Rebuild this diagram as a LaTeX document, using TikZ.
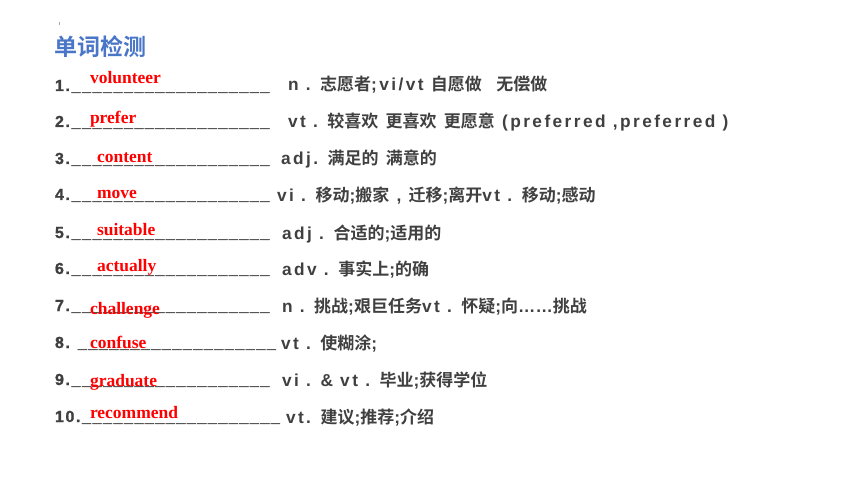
\documentclass[tikz,border=0pt]{standalone}
\usepackage{fontspec}
\setmainfont{Liberation Sans}[LetterSpace=10]
\newfontfamily\numfont{Liberation Sans}[LetterSpace=10,FakeBold=1.2]
\newfontfamily\meanfont{Liberation Sans}[LetterSpace=14]
\newfontfamily\dotsfont{Liberation Sans}
\newfontfamily\cjk{Noto Sans CJK SC}[BoldFont={Noto Sans CJK SC Bold}]
\newfontfamily\redfont{Liberation Serif}
\newcommand{\zh}[1]{{\cjk\fontsize{17}{17}\selectfont #1}}
\newcommand{\edots}{{\dotsfont\bfseries ……}}
\definecolor{txt}{HTML}{404040}
\definecolor{ttl}{HTML}{4A76C8}
\definecolor{ans}{HTML}{FF0000}
\tikzset{
  base/.style={anchor=base west, inner sep=0pt, outer sep=0pt},
  numstyle/.style={base, text=txt, font=\numfont\fontsize{16}{16}\selectfont\bfseries},
  blk/.style={base, text=txt, font=\meanfont\fontsize{17.3}{17}\selectfont\bfseries},
  red/.style={base, text=ans, font=\redfont\fontsize{17.5}{18}\selectfont\bfseries},
  ttlstyle/.style={base, text=ttl, font=\cjk\fontsize{23}{23}\selectfont\bfseries},
}
\newcommand{\unds}{\_\_\_\_\_\_\_\_\_\_\_\_\_\_\_\_\_\_\_}
\begin{document}
\begin{tikzpicture}[x=1pt,y=-1pt]
\useasboundingbox (0,0) rectangle (860,484);
\fill[white] (0,0) rectangle (860,484);
\fill[gray!70] (58.6,22.5) rectangle (59.4,25);
\node[ttlstyle] (title) at (54,56) {单词检测};
% line 1
\node[numstyle] (n1) at (55,91) {1.\unds};
\node[red] (a1) at (90,84) {volunteer};
\node[blk] (m1) at (288,91) {n . \zh{志愿者};vi/vt \zh{自愿做}\ \ \zh{无偿做}};
% line 2
\node[numstyle] (n2) at (55,127) {2.\unds};
\node[red] (a2) at (90,124) {prefer};
\node[blk] (m2) at (288,128) {vt . \zh{较喜欢} \zh{更喜欢} \zh{更愿意} (preferred ,preferred )};
% line 3
\node[numstyle] (n3) at (55,164) {3.\unds};
\node[red] (a3) at (97,163) {content};
\node[blk] (m3) at (281,165) {adj. \zh{满足的} \zh{满意的}};
% line 4
\node[numstyle] (n4) at (55,200) {4.\unds};
\node[red] (a4) at (97,198) {move};
\node[blk] (m4) at (277,201) {vi . \zh{移动};\zh{搬家} , \zh{迁移};\zh{离开}vt . \zh{移动};\zh{感动}};
% line 5
\node[numstyle] (n5) at (55,238) {5.\unds};
\node[red] (a5) at (97,235) {suitable};
\node[blk] (m5) at (282,239) {adj . \zh{合适的};\zh{适用的}};
% line 6
\node[numstyle] (n6) at (55,274) {6.\unds};
\node[red] (a6) at (97,271) {actually};
\node[blk] (m6) at (282,275) {adv . \zh{事实上};\zh{的确}};
% line 7
\node[numstyle] (n7) at (55,311) {7.\unds};
\node[red] (a7) at (90,314) {challenge};
\node[blk] (m7) at (282,312) {n . \zh{挑战};\zh{艰巨任务}vt . \zh{怀疑};\zh{向}\edots\zh{挑战}};
% line 8
\node[numstyle] (n8) at (55,348) {8. \unds};
\node[red] (a8) at (90,348) {confuse};
\node[blk] (m8) at (281,349) {vt . \zh{使糊涂};};
% line 9
\node[numstyle] (n9) at (55,385) {9.\unds};
\node[red] (a9) at (90,386) {graduate};
\node[blk] (m9) at (282,386) {vi . \& vt . \zh{毕业};\zh{获得学位}};
% line 10
\node[numstyle] (n10) at (55,422) {10.\unds};
\node[red] (a10) at (90,418) {recommend};
\node[blk] (m10) at (286,423) {vt. \zh{建议};\zh{推荐};\zh{介绍}};
\end{tikzpicture}
\end{document}
